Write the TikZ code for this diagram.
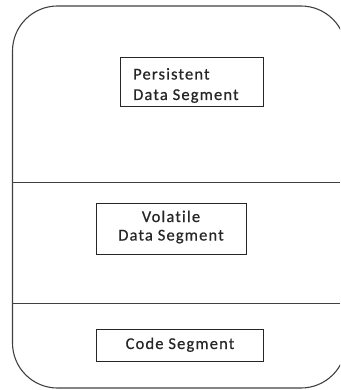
\documentclass[tikz,border=0pt]{standalone}
\usepackage{fontspec}
\setmainfont{Carlito}[LetterSpace=7,FakeBold=0.6,Ligatures={NoCommon,NoContextual}]
\begin{document}
\begin{tikzpicture}[x=1pt,y=-1pt,
  outline/.style={draw=black!75,line width=1.1pt},
  divider/.style={draw=black!75,line width=1pt},
  segbox/.style={draw=black!85,line width=1pt,inner sep=0pt},
  segtext/.style={font=\fontsize{16.5}{19}\selectfont,text=black!85,inner sep=0pt,anchor=base}]
\useasboundingbox (0,0) rectangle (340,390);
\clip (0,0) rectangle (340,390);
\draw[outline,rounded corners=45pt] (12.5,6) rectangle (346,388);
\coordinate (l1) at (12.5,182);
\coordinate (r1) at (340,182);
\coordinate (l2) at (12.5,303);
\coordinate (r2) at (340,303);
\draw[divider] (l1) -- (r1);
\draw[divider] (l2) -- (r2);
% boxes
\node[segbox,minimum width=143pt,minimum height=48.5pt] (pbox) at (191.5,82.25) {};
\node[segbox,minimum width=150pt,minimum height=51pt] (vbox) at (171,228.5) {};
\node[segbox,minimum width=167pt,minimum height=32pt] (cbox) at (179.5,345) {};
% texts
\node[segtext,anchor=base west] (p1) at (133,79.5) {Persistent};
\node[segtext,anchor=base west] (p2) at (133,100) {Data Segment};
\node[segtext] (v1) at (171,222) {Volatile};
\node[segtext] (v2) at (171,240.5) {Data Segment};
\node[segtext] (c1) at (180,349) {Code Segment};
\end{tikzpicture}
\end{document}
